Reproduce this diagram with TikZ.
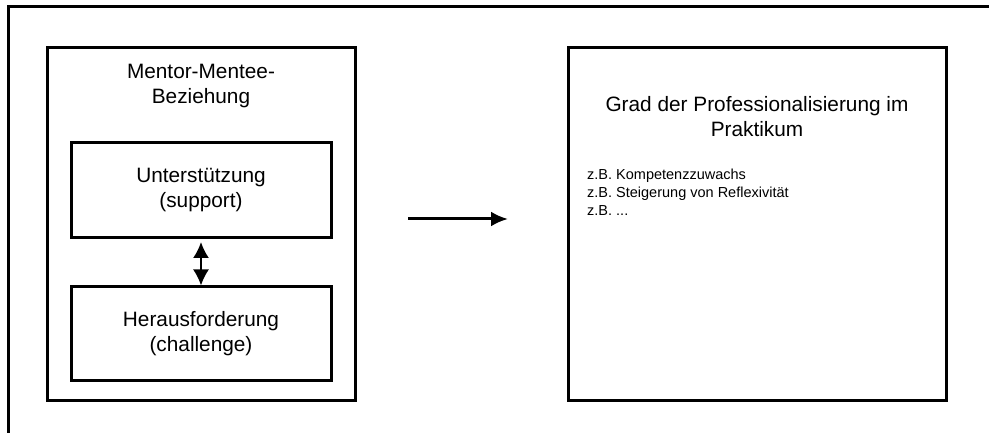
\documentclass[tikz,border=0pt]{standalone}
\usepackage{fontspec}
\setmainfont{Liberation Sans}
\usetikzlibrary{arrows.meta, positioning}

\begin{document}
\begin{tikzpicture}[x=1pt, y=-1pt, font=\fontsize{20.8}{25}\selectfont]
\tikzset{every node/.style={inner sep=0pt}}

\tikzstyle{box}=[rectangle, draw=black, line width=3pt]
\tikzstyle{title}=[align=center]
\tikzstyle{items}=[align=left, font=\fontsize{14.5}{18}\selectfont]
\tikzstyle{post}=[-{Latex[length=17pt,width=15pt]}, line width=3pt]
\tikzstyle{both}=[{Latex[length=16pt,width=16pt]}-{Latex[length=16pt,width=16pt]}, line width=2pt]

\useasboundingbox (0,0) rectangle (989,435);

% frame, cut at right and bottom
\draw[line width=3pt] (989,7) -- (8,7) -- (8,433);

\node[box, minimum width=308pt, minimum height=353pt] (mentor) at (201,224.5) {};
\node[title, below=17.5pt of mentor.north] (mentor title) {Mentor-Mentee-\\Beziehung};

\node[box, title, minimum width=260pt, minimum height=95pt] (support) at (201,190.5) {Unterstützung\\(support)};
\node[box, title, minimum width=260pt, minimum height=94pt, below=46pt of support] (challenge) {Herausforderung\\(challenge)};

\node[box, minimum width=378pt, minimum height=353pt, right=210pt of mentor] (result) {};
\node[title, below=50pt of result.north] (result title) {Grad der Professionalisierung im\\Praktikum};
\node[items, below right=122.5pt and 20.5pt of result.north west] (result items) {z.B. Kompetenzzuwachs\\z.B. Steigerung von Reflexivität\\z.B. ...};

\path[both, draw, shorten <=2.5pt] (support) -- (challenge);

\path (mentor.east) ++(51.5,-5.5) coordinate (arrow tail);
\path[post, draw, shorten >=58.5pt] (arrow tail) -- (arrow tail -| result.west);

\end{tikzpicture}
\end{document}
